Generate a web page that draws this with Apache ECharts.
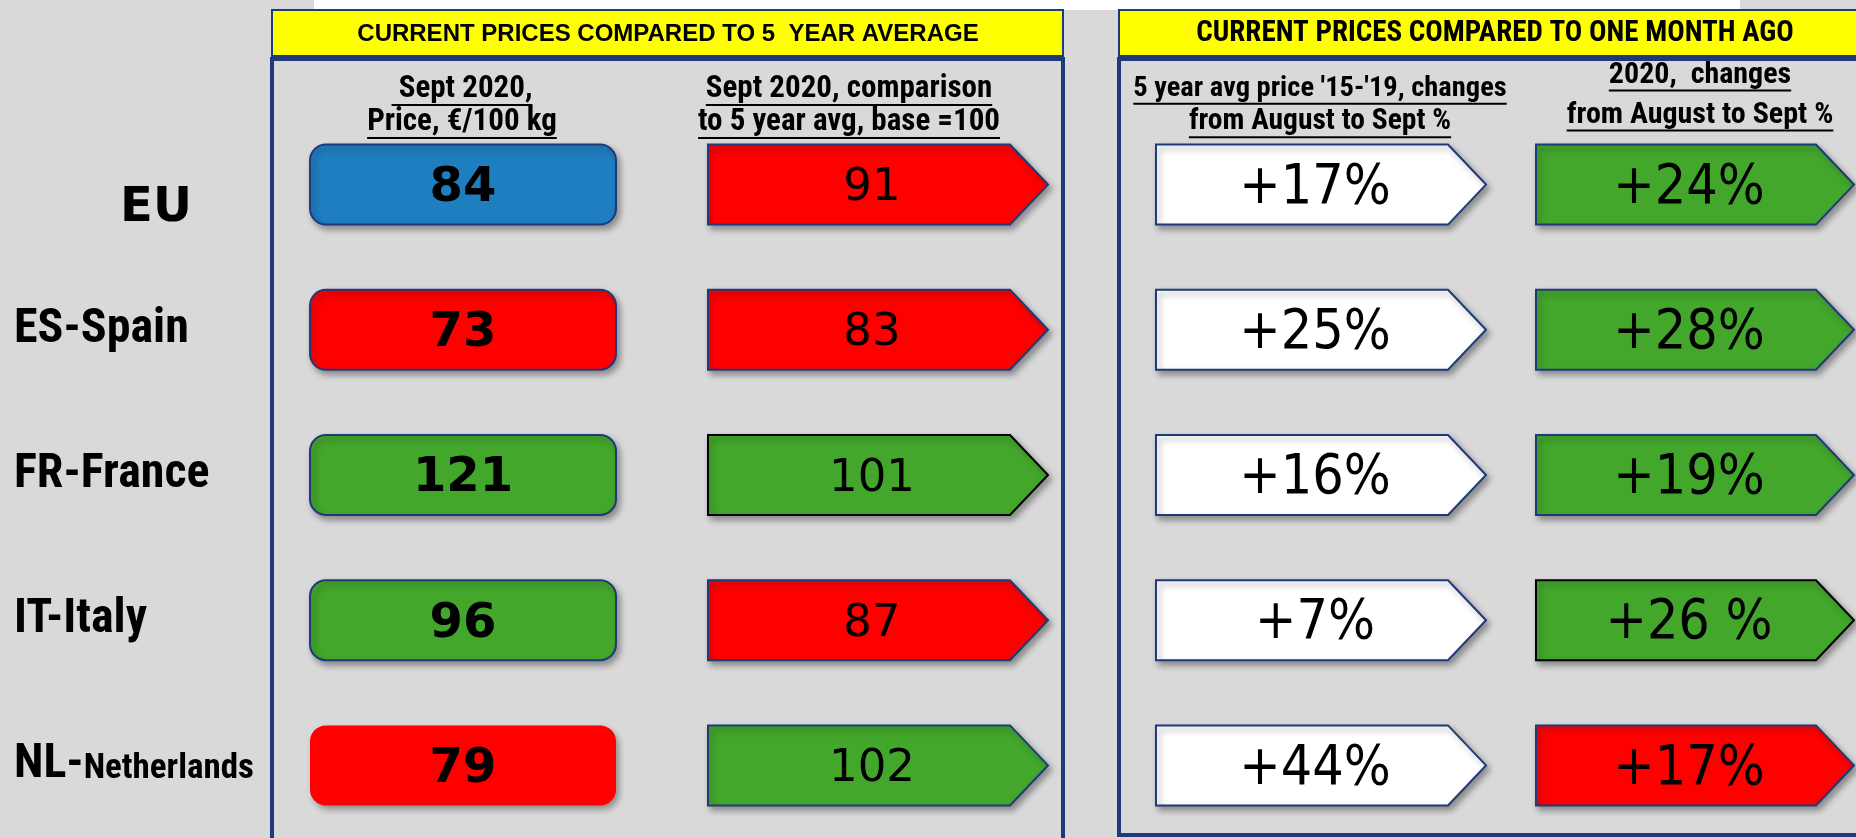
<!DOCTYPE html>
<html>
<head>
    <meta charset="utf-8">
    <title>Current prices compared</title>
    <script src="https://cdn.jsdelivr.net/npm/echarts@6/dist/echarts.min.js"></script>
    <style type="text/css">
        * { margin: 0px; padding: 0px; }
        #main { width: 1856px; height: 838px; }
    </style>
</head>
<body>
<div id="main"></div>
<script type="text/javascript">
    // data
    var countries = ['EU', 'ES-Spain', 'FR-France', 'IT-Italy', 'NL-Netherlands'];
    var priceSept2020 = [84, 73, 121, 96, 79];        // Sept 2020, EUR/100 kg
    var indexVs5yrAvg = [91, 83, 101, 87, 102];       // base = 100
    var avgChangeAugSept = [17, 25, 16, 7, 44];       // 5 year avg '15-'19, Aug -> Sept %
    var change2020AugSept = [24, 28, 19, 26, 17];     // 2020, Aug -> Sept %
    var change2020Labels = ['+24%', '+28%', '+19%', '+26 %', '+17%'];

    var NARROW = '"Liberation Sans Narrow", "Arial Narrow", "Roboto Condensed", sans-serif';
    var VERDANA = '"DejaVu Sans", Verdana, sans-serif';
    var VERDANA_C = '"DejaVu Sans Condensed", "DejaVu Sans", sans-serif';

    var RED = '#FF0000', GREEN = '#43A72C', BLUE = '#1F7EC0', NAVY = '#1F3A7A';
    var BOX_H = 80;
    // column layout (px)
    var cols = [
        {x: 310, w: 306, d: 0},
        {x: 708, w: 340, d: 38},
        {x: 1156, w: 330, d: 38},
        {x: 1536, w: 318, d: 38}
    ];
    // odd outlines in the original: [column-row]
    var blackEdge = ['1-2', '3-3'];
    var noEdge = ['0-4'];

    var myChart = echarts.init(document.getElementById('main'));

    function makeRender(c, colorOf, textOf, font) {
        var col = cols[c];
        return function (params, api) {
            var row = api.value(1);
            var yc = api.coord([0, row])[1];
            var x = col.x, w = col.w, y0 = yc - BOX_H / 2, y1 = yc + BOX_H / 2;
            var key = c + '-' + row;
            var style = {
                fill: colorOf(row),
                stroke: blackEdge.indexOf(key) >= 0 ? '#000' : NAVY,
                lineWidth: noEdge.indexOf(key) >= 0 ? 0 : 2,
                shadowBlur: 6,
                shadowOffsetX: 3,
                shadowOffsetY: 4,
                shadowColor: 'rgba(0,0,0,0.35)'
            };
            var body;
            if (col.d === 0) {
                body = {type: 'rect', shape: {x: x, y: y0, width: w, height: BOX_H, r: 16}, style: style};
            } else {
                body = {
                    type: 'polygon',
                    shape: {points: [[x, y0], [x + w - col.d, y0], [x + w, yc], [x + w - col.d, y1], [x, y1]]},
                    style: style
                };
            }
            return {
                type: 'group',
                children: [body, {
                    type: 'text',
                    style: {
                        text: textOf(row), x: x + w / 2 - (col.d ? 6 : 0), y: yc + 4,
                        align: 'center', verticalAlign: 'middle', font: font, fill: '#000'
                    }
                }]
            };
        };
    }

    function seriesFor(values, render) {
        return {
            type: 'custom',
            renderItem: render,
            encode: {x: 0, y: 1},
            data: values.map(function (v, i) { return [0, countries[i]]; })
        };
    }

    // underlined column headers
    var measure = document.createElement('canvas').getContext('2d');
    function header(lines, cx, ys, sizes) {
        var out = [];
        lines.forEach(function (t, i) {
            var font = 'bold ' + sizes[i] + 'px ' + NARROW;
            measure.font = font;
            var w = measure.measureText(t).width;
            var uy = ys[i] + sizes[i] * 0.52;
            out.push({type: 'text', style: {text: t, x: cx, y: ys[i], align: 'center', verticalAlign: 'middle', font: font, fill: '#000'}});
            out.push({type: 'line', shape: {x1: cx - w / 2, y1: uy, x2: cx + w / 2, y2: uy}, style: {stroke: '#000', lineWidth: 2}});
        });
        return out;
    }

    var graphics = [
        {type: 'rect', shape: {x: 314, y: 0, width: 1426, height: 10}, style: {fill: '#fff'}},
        {type: 'rect', shape: {x: 272, y: 10, width: 791, height: 46}, style: {fill: '#FFFF00', stroke: NAVY, lineWidth: 2}},
        {type: 'text', style: {text: 'CURRENT PRICES COMPARED TO 5  YEAR AVERAGE', x: 668, y: 34, align: 'center', verticalAlign: 'middle', font: 'bold 24px "Liberation Sans", Arial, sans-serif', fill: '#000'}},
        {type: 'rect', shape: {x: 272, y: 59, width: 791, height: 820}, style: {fill: 'none', stroke: NAVY, lineWidth: 4}},
        {type: 'rect', shape: {x: 1119, y: 10, width: 760, height: 46}, style: {fill: '#FFFF00', stroke: NAVY, lineWidth: 2}},
        {type: 'text', style: {text: 'CURRENT PRICES COMPARED TO ONE MONTH AGO', x: 1495, y: 34, align: 'center', verticalAlign: 'middle', font: 'bold 29px ' + NARROW, fill: '#000'}},
        {type: 'rect', shape: {x: 1119, y: 59, width: 760, height: 776}, style: {fill: 'none', stroke: NAVY, lineWidth: 4}}
    ]
        .concat(header([' Sept 2020,', 'Price, \u20ac/100 kg'], 462, [89, 122], [31, 31]))
        .concat(header(['Sept 2020, comparison', 'to 5 year avg, base =100'], 849, [89, 122], [31, 31]))
        .concat(header(["5 year avg price '15-'19, changes", 'from August to Sept %'], 1320, [89, 122], [28.5, 29.5]))
        .concat(header(['2020,  changes', 'from August to Sept %'], 1700, [75, 115], [30, 30]));

    var option = {
        backgroundColor: '#D9D9D9',
        animation: false,
        grid: {left: 0, right: 0, top: 112, height: 734},
        xAxis: {type: 'value', min: 0, max: 1856, show: false},
        yAxis: {
            type: 'category',
            data: countries,
            inverse: true,
            axisLine: {show: false},
            axisTick: {show: false},
            splitLine: {show: false},
            axisLabel: {
                inside: true,
                margin: 14,
                align: 'left',
                formatter: function (v) {
                    if (v === 'EU') return '{eu|EU}';
                    if (v === 'NL-Netherlands') return '{big|NL-}{small|Netherlands}';
                    return '{big|' + v + '}';
                },
                rich: {
                    eu: {width: 284, align: 'center', padding: [48, 0, 0, 0], fontFamily: VERDANA, fontWeight: 'bold', fontSize: 48, color: '#000'},
                    big: {fontFamily: NARROW, fontWeight: 'bold', fontSize: 48, color: '#000'},
                    small: {fontFamily: NARROW, fontWeight: 'bold', fontSize: 35, color: '#000', padding: [8, 0, 0, 0]}
                }
            }
        },
        graphic: graphics,
        series: [
            seriesFor(priceSept2020, makeRender(0, function (i) {
                if (i === 0) return BLUE;
                return priceSept2020[i] > priceSept2020[0] ? GREEN : RED;
            }, function (i) { return String(priceSept2020[i]); }, 'bold 48px ' + VERDANA)),
            seriesFor(indexVs5yrAvg, makeRender(1, function (i) {
                return indexVs5yrAvg[i] >= 100 ? GREEN : RED;
            }, function (i) { return String(indexVs5yrAvg[i]); }, '45px ' + VERDANA)),
            seriesFor(avgChangeAugSept, makeRender(2, function () {
                return '#FFFFFF';
            }, function (i) { return '+' + avgChangeAugSept[i] + '%'; }, '55px ' + VERDANA_C)),
            seriesFor(change2020AugSept, makeRender(3, function (i) {
                return change2020AugSept[i] >= avgChangeAugSept[i] ? GREEN : RED;
            }, function (i) { return change2020Labels[i]; }, '55px ' + VERDANA_C))
        ]
    };

    myChart.setOption(option);
</script>
</body>
</html>
